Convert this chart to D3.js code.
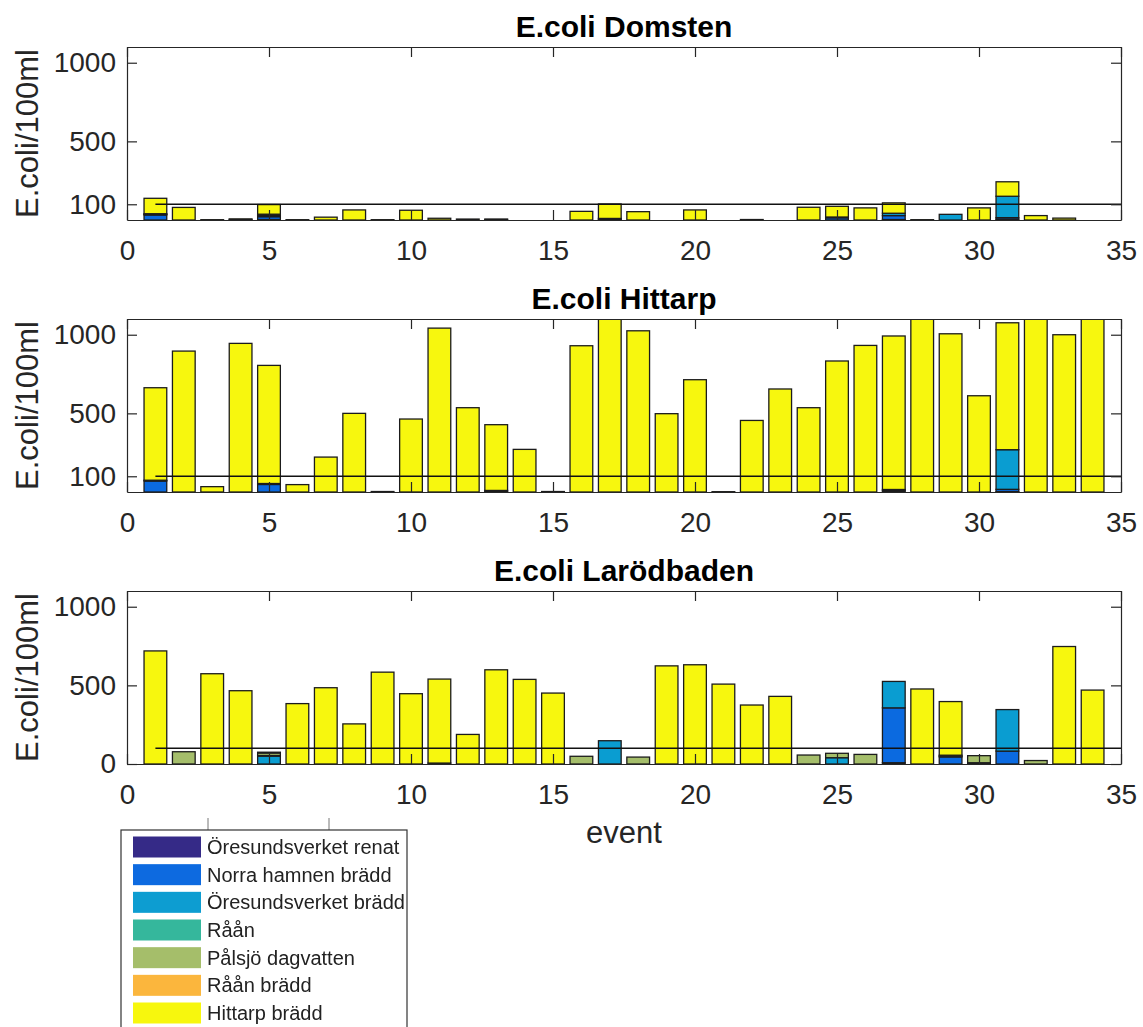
<!DOCTYPE html>
<html>
<head>
<meta charset="utf-8">
<script src="https://cdn.jsdelivr.net/npm/d3@7"></script>
<style>
  body { margin: 0; background: #fff; }
  svg { display: block; }
  text { font-family: "Liberation Sans", Arial, Helvetica, sans-serif; }
</style>
</head>
<body>
<svg id="fig" width="1143" height="1027"></svg>
<script>
// ---- data -------------------------------------------------------------
const events = d3.range(1, 35);              // event number 1..34
const xTickValues = [0, 5, 10, 15, 20, 25, 30, 35];
const yTickDomsten = [100, 500, 1000];
const yTickHittarp = [100, 500, 1000];
const yTickLarod = [0, 500, 1000];
const limitValue = 100;                      // reference line, E.coli/100ml

const sourceNames = [
  "Öresundsverket renat", "Norra hamnen brädd", "Öresundsverket brädd",
  "Råån", "Pålsjö dagvatten", "Råån brädd", "Hittarp brädd"
];
const sourceColors = ["#352a87", "#0b6ae0", "#0a9dd1", "#36b79c", "#a5be6b", "#fbb63c", "#f7f70e"];

const siteTitles = ["E.coli Domsten", "E.coli Hittarp", "E.coli Larödbaden"];

// Domsten, contribution per source for events 1..34
const domstenRenat   = [0,0,0,0,3,0,0,0,0,0,0,0,3,0,0,0,3,0,0,0,0,0,0,0,0,0,3,0,0,0,5,0,0,0];
const domstenNorra   = [32,0,0,0,18,0,0,0,0,0,0,0,0,0,0,0,7,0,0,0,0,0,0,0,14,0,25,0,0,0,10,0,0,0];
const domstenOresBr  = [0,0,0,0,8,0,0,0,0,0,0,0,0,0,0,0,0,0,0,0,0,0,0,0,0,0,15,0,36,0,136,0,0,0];
const domstenRaan    = [4,0,0,3,4,0,0,0,0,0,0,0,0,0,0,0,0,0,0,0,0,0,0,0,5,0,0,0,0,0,0,0,0,0];
const domstenPalsjo  = [4,0,0,0,4,0,0,0,0,0,0,0,0,0,0,0,0,0,0,0,0,3,0,0,0,0,0,0,0,0,0,0,0,0];
const domstenRaanBr  = [0,0,0,0,0,0,0,0,0,0,0,0,0,0,0,0,0,0,0,0,0,0,0,0,0,0,0,0,0,0,0,0,0,0];
const domstenHittarp = [98,80,2,4,61,2,18,64,2,62,11,6,3,0,0,55,92,53,0,64,0,0,0,81,68,77,66,2,0,77,92,28,12,0];

// Hittarp
const hittarpRenat   = [0,0,0,0,0,0,0,0,0,0,0,0,4,0,0,0,0,0,0,0,0,0,0,0,0,0,8,0,0,0,3,0,0,0];
const hittarpNorra   = [70,0,0,0,48,0,0,0,0,0,0,0,6,0,0,0,0,0,0,0,0,0,0,0,0,0,8,0,0,0,14,0,0,0];
const hittarpOresBr  = [0,0,0,0,0,0,0,0,0,0,0,0,0,0,0,0,0,0,0,0,0,0,0,0,0,0,0,0,0,0,252,0,0,0];
const hittarpRaan    = [5,0,0,0,6,0,0,0,0,0,0,0,0,0,0,0,0,0,0,0,0,0,0,0,0,0,0,0,0,0,0,0,0,0];
const hittarpPalsjo  = [0,0,0,0,0,0,0,0,0,0,0,0,0,0,0,0,0,0,0,0,0,0,0,0,0,0,0,0,0,0,0,0,0,0];
const hittarpRaanBr  = [0,0,0,0,0,0,0,0,0,0,0,0,0,0,0,0,0,0,0,0,0,0,0,0,0,0,0,0,0,0,0,0,0,0];
const hittarpHittarp = [588,896,34,945,751,47,222,500,3,464,1042,536,418,271,3,930,1300,1025,498,714,2,455,655,536,833,932,976,1250,1006,612,807,1300,1000,1400];

// Larödbaden
const larodRenat   = [0,0,0,0,0,0,0,0,0,0,6,0,0,0,0,0,0,0,0,0,0,0,0,0,0,0,8,0,0,8,0,0,0,0];
const larodNorra   = [0,0,0,0,0,0,0,0,0,0,0,0,0,0,0,0,0,0,0,0,0,0,0,0,0,0,349,0,45,0,82,0,0,0];
const larodOresBr  = [0,0,0,0,50,0,0,0,0,0,0,0,0,0,0,0,148,0,0,0,0,0,0,0,40,0,168,0,5,0,264,0,0,0];
const larodRaan    = [0,0,0,0,4,0,0,0,0,0,0,0,0,0,0,0,0,0,0,0,0,0,0,0,0,0,0,0,0,0,0,0,0,0];
const larodPalsjo  = [0,78,0,0,16,0,0,0,0,0,0,0,0,0,0,49,0,44,0,0,0,0,0,57,28,61,0,0,6,45,0,22,0,0];
const larodRaanBr  = [0,0,0,0,0,0,0,0,0,0,0,0,0,0,0,0,0,0,0,0,0,0,0,0,0,0,0,0,0,0,0,0,0,0];
const larodHittarp = [719,0,574,466,5,384,485,255,584,447,534,188,599,538,451,0,0,0,624,631,508,375,430,0,0,0,0,477,341,0,0,0,747,470];

const siteSeries = [
  [domstenRenat, domstenNorra, domstenOresBr, domstenRaan, domstenPalsjo, domstenRaanBr, domstenHittarp],
  [hittarpRenat, hittarpNorra, hittarpOresBr, hittarpRaan, hittarpPalsjo, hittarpRaanBr, hittarpHittarp],
  [larodRenat, larodNorra, larodOresBr, larodRaan, larodPalsjo, larodRaanBr, larodHittarp]
];
const siteYTicks = [yTickDomsten, yTickHittarp, yTickLarod];

// ---- layout -----------------------------------------------------------
const svg = d3.select("#fig");
const plotLeft = 127, plotRight = 1121;
const plotTops = [47, 319, 591];
const plotHeight = 173;
const axisColor = "#262626";
const tickFont = 28, labelFont = 31;
const plainNumber = d3.format("d");

const x = d3.scaleLinear().domain([0, 35]).range([plotLeft, plotRight]);
const barWidth = 0.8;

siteSeries.forEach((series, i) => {
  const top = plotTops[i], bottom = top + plotHeight;
  const y = d3.scaleLinear().domain([0, 1100]).range([bottom, top]);

  const rows = events.map((e, j) => {
    const r = { event: e };
    sourceNames.forEach((s, k) => { r[s] = series[k][j]; });
    return r;
  });
  const stacked = d3.stack().keys(sourceNames)(rows);

  const g = svg.append("g");
  const clipId = "clip" + i;
  g.append("clipPath").attr("id", clipId)
    .append("rect").attr("x", plotLeft).attr("y", top)
    .attr("width", plotRight - plotLeft).attr("height", plotHeight);

  const plot = g.append("g").attr("clip-path", `url(#${clipId})`);

  stacked.forEach((layer, k) => {
    plot.append("g")
      .selectAll("rect")
      .data(layer.filter(d => d[1] - d[0] > 0))
      .join("rect")
      .attr("x", d => x(d.data.event - barWidth / 2))
      .attr("width", x(barWidth) - x(0))
      .attr("y", d => y(d[1]))
      .attr("height", d => y(d[0]) - y(d[1]))
      .attr("fill", sourceColors[k])
      .attr("stroke", "#1c1c1c")
      .attr("stroke-width", 1.3);
  });

  // limit line at 100 E.coli/100ml
  plot.append("line")
    .attr("x1", x(1)).attr("x2", x(35))
    .attr("y1", y(limitValue)).attr("y2", y(limitValue))
    .attr("stroke", "#111").attr("stroke-width", 1.5);

  // axes: ticks point inward on all four sides
  const styleAxis = sel => {
    sel.selectAll("path.domain").attr("stroke", axisColor).attr("stroke-width", 1.2);
    sel.selectAll(".tick line").attr("stroke", axisColor).attr("stroke-width", 1.2);
    sel.selectAll(".tick text").attr("fill", axisColor)
      .style("font-size", tickFont + "px")
      .style("font-family", '"Liberation Sans", Arial, sans-serif');
  };

  g.append("g").attr("transform", `translate(0,${bottom})`)
    .call(d3.axisBottom(x).tickValues(xTickValues).tickFormat(plainNumber)
      .tickSizeInner(-10).tickSizeOuter(0).tickPadding(20))
    .call(styleAxis);
  g.append("g").attr("transform", `translate(0,${top})`)
    .call(d3.axisTop(x).tickValues(xTickValues).tickSizeInner(-10).tickSizeOuter(0).tickFormat(""))
    .call(styleAxis);
  g.append("g").attr("transform", `translate(${plotLeft},0)`)
    .call(d3.axisLeft(y).tickValues(siteYTicks[i]).tickFormat(plainNumber)
      .tickSizeInner(-10).tickSizeOuter(0).tickPadding(11))
    .call(styleAxis);
  g.append("g").attr("transform", `translate(${plotRight},0)`)
    .call(d3.axisRight(y).tickValues(siteYTicks[i]).tickSizeInner(-10).tickSizeOuter(0).tickFormat(""))
    .call(styleAxis);

  // title
  g.append("text")
    .attr("x", (plotLeft + plotRight) / 2).attr("y", top - 10)
    .attr("text-anchor", "middle")
    .style("font-size", "30px").style("font-weight", "bold")
    .attr("fill", "#000")
    .text(siteTitles[i]);

  // y label
  g.append("text")
    .attr("transform", `translate(38,${(top + bottom) / 2}) rotate(-90)`)
    .attr("text-anchor", "middle")
    .style("font-size", labelFont + "px")
    .attr("fill", axisColor)
    .text("E.coli/100ml");
});

// x label under the last panel
svg.append("text")
  .attr("x", (plotLeft + plotRight) / 2).attr("y", 843)
  .attr("text-anchor", "middle")
  .style("font-size", labelFont + "px")
  .attr("fill", axisColor)
  .text("event");

// ---- legend -----------------------------------------------------------
const defs = svg.append("defs");
defs.append("filter").attr("id", "soft")
  .append("feGaussianBlur").attr("stdDeviation", 0.5);

svg.append("g").attr("stroke", "#777").attr("stroke-width", 1)
  .selectAll("line").data([208, 329]).join("line")
  .attr("x1", d => d).attr("x2", d => d).attr("y1", 818).attr("y2", 830);

const legend = svg.append("g").attr("filter", "url(#soft)");
legend.append("rect")
  .attr("x", 121).attr("y", 830).attr("width", 286).attr("height", 210)
  .attr("fill", "#fff").attr("stroke", "#333").attr("stroke-width", 1.2);

const rowY = d3.scaleLinear().domain([0, 6]).range([847, 1013]);
const items = legend.selectAll("g.item").data(sourceNames).join("g").attr("class", "item")
  .attr("transform", (d, k) => `translate(0,${rowY(k)})`);
items.append("rect")
  .attr("x", 133).attr("y", -10.5).attr("width", 68).attr("height", 21)
  .attr("fill", (d, k) => sourceColors[k]);
items.append("text")
  .attr("x", 207).attr("y", 0).attr("dy", "0.35em")
  .style("font-size", "20px").attr("fill", "#222")
  .text(d => d);
</script>
</body>
</html>
